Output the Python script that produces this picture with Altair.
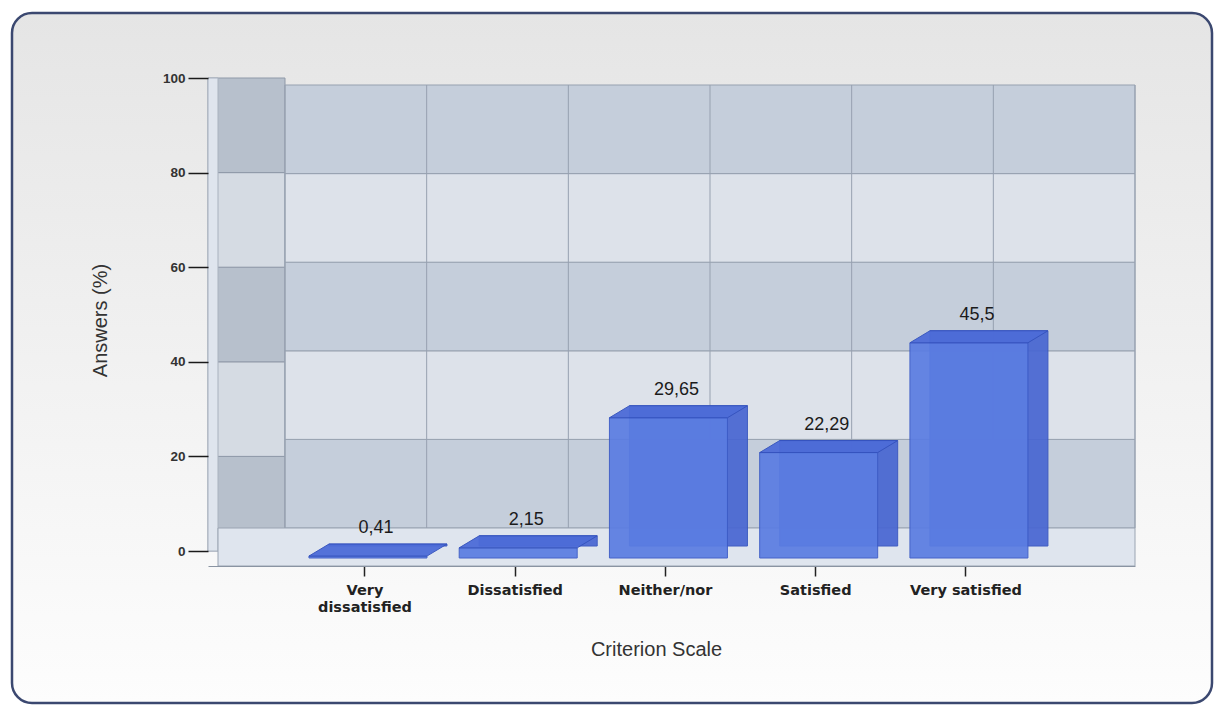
import altair as alt
import pandas as pd

# Survey answers per criterion (percent)
categories = ["Very dissatisfied", "Dissatisfied", "Neither/nor", "Satisfied", "Very satisfied"]
answers = [0.41, 2.15, 29.65, 22.29, 45.5]

# Wall bands (every 20 %) and back-wall columns
band_lo = [0, 20, 40, 60, 80]
band_hi = [20, 40, 60, 80, 100]
band_shade = ["dark", "light", "dark", "light", "dark"]
wall_cols = [0, 1, 2, 3, 4, 5, 6]
y_ticks = [0, 20, 40, 60, 80, 100]

W, H = 927, 473
DX, DY = 20, -12         # depth of the extruded boxes, in pixels
SHIFT_X, SHIFT_Y = 3, 7  # the boxes stand slightly in front of the axis plane
BAR_W = 118

bars_df = pd.DataFrame({"category": categories, "value": answers})
bands_df = pd.DataFrame({"lo": band_lo, "hi": band_hi, "shade": band_shade})
cols_df = pd.DataFrame({"col": wall_cols})
one = pd.DataFrame({"k": [0]})


def x_band():
    return alt.Scale(type="band", domain=categories, paddingInner=0.22, paddingOuter=0.695, align=0.471)


y_front = alt.Scale(domain=[0, 100], nice=False, zero=True)
y_wall = alt.Scale(domain=[0, 100], nice=False, range=[450, 7])
y_plain = alt.Scale(domain=[0, 100], nice=False)

# Rounded frame with a soft vertical gradient
frame = alt.Chart(one).mark_rect(
    cornerRadius=20,
    stroke="#3b4870",
    strokeWidth=2.5,
    fill=alt.Gradient(
        gradient="linear",
        stops=[alt.GradientStop(color="#e5e5e5", offset=0),
               alt.GradientStop(color="#fdfdfd", offset=1)],
        x1=0, x2=0, y1=0, y2=1,
    ),
).encode(x=alt.value(-196), x2=alt.value(1004), y=alt.value(-65), y2=alt.value(625))

# Left side wall
side_wall = alt.Chart(bands_df).mark_rect(stroke="#8f99a8", strokeWidth=1).encode(
    x=alt.value(0), x2=alt.value(77),
    y=alt.Y("lo:Q", scale=y_front, axis=None), y2="hi:Q",
    color=alt.Color("shade:N", scale=alt.Scale(domain=["dark", "light"], range=["#b7c0cc", "#d5dbe3"]), legend=None),
)
side_edge = alt.Chart(one).mark_rect(color="#dfe5ee", stroke="#a9b2bf", strokeWidth=1).encode(
    x=alt.value(0), x2=alt.value(10),
    y=alt.Y("k:Q", scale=y_plain, axis=None),
    y2=alt.datum(100),
)

# Back wall
back_wall = alt.Chart(bands_df).mark_rect(stroke="#97a1b0", strokeWidth=1).encode(
    x=alt.value(77), x2=alt.value(W),
    y=alt.Y("lo:Q", scale=y_wall, axis=None), y2="hi:Q",
    color=alt.Color("shade:N", scale=alt.Scale(domain=["dark", "light"], range=["#c5cedb", "#dde2ea"]), legend=None),
)

# Floor
floor = alt.Chart(one).mark_rect(color="#dfe5ee", stroke="#9aa4b2", strokeWidth=1, yOffset=-23, y2Offset=15).encode(
    x=alt.value(10), x2=alt.value(W),
    y=alt.Y("k:Q", scale=y_plain, axis=None),
    y2=alt.datum(0),
)

# Vertical grid on the back wall
grid = alt.Chart(cols_df).transform_calculate(base="0").mark_rule(color="#97a1b0", strokeWidth=1).encode(
    x=alt.X("col:Q", scale=alt.Scale(domain=[0, 6], range=[77, W], nice=False, zero=False), axis=None),
    y=alt.Y("base:Q", scale=y_wall, axis=None),
    y2=alt.datum(100),
)

# Back copy of each box: forms the right side face
bars_back = alt.Chart(bars_df).mark_bar(
    color="#4866d2", opacity=0.92, stroke="#3553be", strokeWidth=1, width=BAR_W,
    xOffset=SHIFT_X + DX, x2Offset=SHIFT_X + DX, yOffset=SHIFT_Y + DY, y2Offset=SHIFT_Y + DY,
).encode(
    x=alt.X("category:N", scale=x_band(), axis=None, sort=categories),
    y=alt.Y("value:Q", scale=y_front, axis=None),
    y2=alt.datum(0),
)

# Front face, carrying both axes
bars_front = alt.Chart(bars_df).mark_bar(
    color="#5b7de2", opacity=0.93, stroke="#3c5bc6", strokeWidth=1, width=BAR_W,
    xOffset=SHIFT_X, x2Offset=SHIFT_X, yOffset=SHIFT_Y, y2Offset=SHIFT_Y,
).encode(
    x=alt.X(
        "category:N", scale=x_band(), sort=categories,
        axis=alt.Axis(
            zindex=1, title="Criterion Scale", labelAngle=0, offset=15, tickSize=10, tickColor="#222222",
            tickWidth=1.5, domainColor="#8a94a2", labelFont="DejaVu Sans", labelFontWeight="bold",
            labelFontSize=14.5, labelColor="#222222", labelPadding=7, labelLineHeight=17,
            labelExpr="datum.label == 'Very dissatisfied' ? ['Very', 'dissatisfied'] : datum.label",
            titleFont="Liberation Sans", titleFontSize=20, titleFontWeight="normal",
            titleColor="#333333", titlePadding=26, titleX=448,
        ),
    ),
    y=alt.Y(
        "value:Q", scale=y_front,
        axis=alt.Axis(
            zindex=1, title="Answers (%)", values=y_ticks, grid=False, domain=False, tickSize=20,
            tickWidth=1.5, tickColor="#1a1a1a", labelFont="Liberation Sans", labelFontWeight="bold",
            labelFontSize=13.5, labelColor="#333333", labelPadding=3,
            titleFont="Liberation Sans", titleFontSize=20, titleFontWeight="normal",
            titleColor="#333333", titleX=-98, titleY=242,
        ),
    ),
    y2=alt.datum(0),
)

# Top face of each box: a parallelogram symbol spanning the front edge and the back edge
span = BAR_W + DX
half = span / 2
u_front = (BAR_W - half) / half
u_depth = (-DY / 2) / half
top_path = (
    f"M -1 {u_depth:.4f} L {u_front:.4f} {u_depth:.4f} "
    f"L 1 {-u_depth:.4f} L {-u_front:.4f} {-u_depth:.4f} Z"
)
tops = alt.Chart(bars_df).mark_point(
    shape=top_path, size=span * span, filled=True, color="#4d6cd8", opacity=0.95,
    stroke="#3553be", strokeWidth=1,
    xOffset=SHIFT_X + DX / 2, yOffset=SHIFT_Y + DY / 2,
).encode(
    x=alt.X("category:N", scale=x_band(), axis=None, sort=categories),
    y=alt.Y("value:Q", scale=y_front, axis=None),
)

labels = alt.Chart(bars_df).transform_calculate(
    label="replace(toString(datum.value), '.', ',')"
).mark_text(
    dx=SHIFT_X + 8, dy=SHIFT_Y - 23, baseline="alphabetic", fontSize=18, font="Liberation Sans", color="#1b1b1b",
).encode(
    x=alt.X("category:N", scale=x_band(), axis=None, sort=categories),
    y=alt.Y("value:Q", scale=y_front, axis=None),
    text="label:N",
)

chart = alt.layer(
    frame, side_wall, side_edge, back_wall, floor, grid, bars_back, bars_front, tops, labels
).resolve_scale(
    x="independent", y="independent", color="independent"
).properties(
    width=W, height=H,
    autosize=alt.AutoSizeParams(type="none"),
    padding={"left": 208, "top": 78, "right": 1216 - 208 - W, "bottom": 706 - 78 - H},
    background="#ffffff",
).configure_view(stroke=None)

chart.save("out.html", embed_options={"renderer": "svg", "actions": False})
